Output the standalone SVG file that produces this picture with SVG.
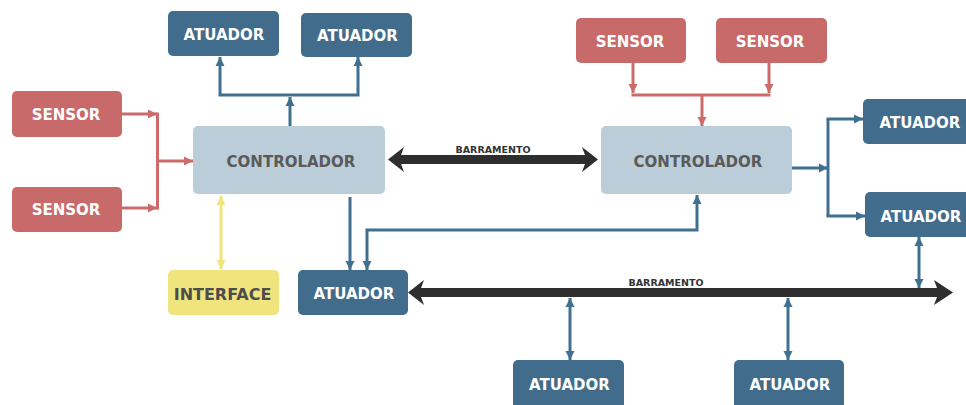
<svg xmlns="http://www.w3.org/2000/svg" width="966" height="405" viewBox="0 0 966 405">
<defs>
<style>
.atu{fill:#416c8b}
.sen{fill:#c96a6a}
.ctl{fill:#bbcdd9}
.ifc{fill:#efe47e}
.lw{font-family:"DejaVu Sans",Verdana,sans-serif;font-weight:bold;font-size:15px;fill:#ffffff;text-anchor:middle}
.lc{font-family:"DejaVu Sans",Verdana,sans-serif;font-weight:bold;font-size:15px;fill:#5a5a5a;text-anchor:middle}
.li{font-family:"DejaVu Sans",Verdana,sans-serif;font-weight:bold;font-size:16px;fill:#4d4d4d;text-anchor:middle}
.lb{font-family:"DejaVu Sans",Verdana,sans-serif;font-weight:bold;font-size:9.5px;fill:#333333;text-anchor:middle}
.cb{fill:none;stroke:#40708f;stroke-width:3}
.cr{fill:none;stroke:#cd6a6a;stroke-width:3}
.cy{fill:none;stroke:#efe47e;stroke-width:3}
.bus{fill:#2e2e2e}
</style>
<marker id="ab" viewBox="0 0 10 10" refX="10" refY="5" markerWidth="9" markerHeight="10" markerUnits="userSpaceOnUse" orient="auto-start-reverse"><path d="M0,0 L10,5 L0,10 z" fill="#40708f"/></marker>
<marker id="ar" viewBox="0 0 10 10" refX="10" refY="5" markerWidth="9" markerHeight="10" markerUnits="userSpaceOnUse" orient="auto-start-reverse"><path d="M0,0 L10,5 L0,10 z" fill="#cd6a6a"/></marker>
<marker id="ay" viewBox="0 0 10 10" refX="10" refY="5" markerWidth="9" markerHeight="10" markerUnits="userSpaceOnUse" orient="auto-start-reverse"><path d="M0,0 L10,5 L0,10 z" fill="#efe47e"/></marker>
</defs>
<rect width="966" height="405" fill="#ffffff"/>

<g id="connectors">
  <!-- left sensors to left controller -->
  <path class="cr" d="M122,114 H157" marker-end="url(#ar)"/>
  <path class="cr" d="M122,208 H157" marker-end="url(#ar)"/>
  <path class="cr" d="M157.5,112.5 V209.5"/>
  <path class="cr" d="M157,161 H193" marker-end="url(#ar)"/>
  <!-- left controller to top actuators -->
  <path class="cb" d="M290,126 V97" marker-end="url(#ab)"/>
  <path class="cb" d="M220,57 V95 H358 V57" marker-start="url(#ab)" marker-end="url(#ab)"/>
  <!-- interface -->
  <path class="cy" d="M221,196 V269" marker-start="url(#ay)" marker-end="url(#ay)"/>
  <!-- left controller to bottom-left actuator -->
  <path class="cb" d="M350,197 V270" marker-end="url(#ab)"/>
  <!-- right controller to bottom-left actuator -->
  <path class="cb" d="M697,195 V230 H367 V270" marker-start="url(#ab)" marker-end="url(#ab)"/>
  <!-- right sensors to right controller -->
  <path class="cr" d="M633,63 V93" marker-end="url(#ar)"/>
  <path class="cr" d="M769,63 V93" marker-end="url(#ar)"/>
  <path class="cr" d="M631.5,95 H770.5"/>
  <path class="cr" d="M702,95 V126" marker-end="url(#ar)"/>
  <!-- right controller to right actuators -->
  <path class="cb" d="M792,168 H828" marker-end="url(#ab)"/>
  <path class="cb" d="M828,119 V216"/>
  <path class="cb" d="M826.5,119 H863" marker-end="url(#ab)"/>
  <path class="cb" d="M826.5,216 H865" marker-end="url(#ab)"/>
  <!-- actuators to bus -->
  <path class="cb" d="M919,237 V288" marker-start="url(#ab)" marker-end="url(#ab)"/>
  <path class="cb" d="M570,298 V360" marker-start="url(#ab)" marker-end="url(#ab)"/>
  <path class="cb" d="M788,298 V360" marker-start="url(#ab)" marker-end="url(#ab)"/>
  <!-- bus 1 -->
  <polygon class="bus" points="388,159.5 404,147 401,155 585,155 582,147 598,159.5 582,172 585,164 401,164 404,172"/>
  <text class="lb" x="493" y="153">BARRAMENTO</text>
  <!-- bus 2 -->
  <polygon class="bus" points="408,292.5 424,280 421,288 937,288 934,280 953,292.5 934,305 937,297 421,297 424,305"/>
  <text class="lb" x="666" y="285.5">BARRAMENTO</text>
</g>

<g id="atuador-top-1"><rect class="atu" x="168" y="11" width="111" height="45" rx="5"/><text class="lw" x="224" y="40">ATUADOR</text></g>
<g id="atuador-top-2"><rect class="atu" x="301" y="13" width="111" height="44" rx="5"/><text class="lw" x="357.5" y="40.5">ATUADOR</text></g>
<g id="sensor-left-1"><rect class="sen" x="12" y="91" width="110" height="46" rx="5"/><text class="lw" x="66" y="120">SENSOR</text></g>
<g id="sensor-left-2"><rect class="sen" x="12" y="187" width="110" height="45" rx="5"/><text class="lw" x="66" y="215">SENSOR</text></g>
<g id="controlador-left"><rect class="ctl" x="193" y="126" width="192" height="68" rx="5"/><text class="lc" x="291" y="166.5">CONTROLADOR</text></g>
<g id="interface"><rect class="ifc" x="168" y="270" width="111" height="45" rx="5"/><text class="li" x="222.5" y="299.5">INTERFACE</text></g>
<g id="atuador-bottom-left"><rect class="atu" x="298" y="270" width="110" height="45" rx="5"/><text class="lw" x="354" y="298.5">ATUADOR</text></g>
<g id="sensor-right-1"><rect class="sen" x="576" y="18" width="110" height="45" rx="5"/><text class="lw" x="630" y="47">SENSOR</text></g>
<g id="sensor-right-2"><rect class="sen" x="716" y="18" width="111" height="45" rx="5"/><text class="lw" x="770" y="47">SENSOR</text></g>
<g id="controlador-right"><rect class="ctl" x="601" y="126" width="191" height="68" rx="5"/><text class="lc" x="698" y="167">CONTROLADOR</text></g>
<g id="atuador-right-1"><rect class="atu" x="863" y="99" width="112" height="45" rx="5"/><text class="lw" x="920" y="128">ATUADOR</text></g>
<g id="atuador-right-2"><rect class="atu" x="865" y="192" width="112" height="45" rx="5"/><text class="lw" x="921" y="221.5">ATUADOR</text></g>
<g id="atuador-bottom-1"><rect class="atu" x="513" y="360" width="111" height="50" rx="5"/><text class="lw" x="569.5" y="390">ATUADOR</text></g>
<g id="atuador-bottom-2"><rect class="atu" x="734" y="360" width="110" height="50" rx="5"/><text class="lw" x="790" y="390">ATUADOR</text></g>
</svg>
